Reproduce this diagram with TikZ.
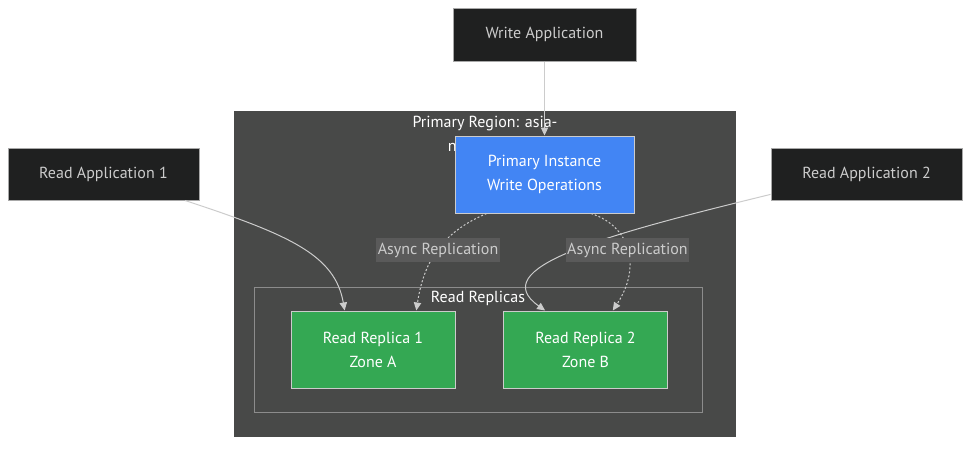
\documentclass[tikz,border=0pt]{standalone}
\usepackage{fontspec}
\setmainfont{PT Sans}
\usetikzlibrary{positioning,arrows.meta}
\definecolor{appfill}{HTML}{1F2020}
\definecolor{apptext}{HTML}{CCCCCC}
\definecolor{boxline}{HTML}{A8A8A8}
\definecolor{regionfill}{HTML}{484948}
\definecolor{clusterline}{HTML}{8C8C8C}
\definecolor{primaryfill}{HTML}{4285F4}
\definecolor{replicafill}{HTML}{34A853}
\definecolor{edgeline}{HTML}{CCCCCC}
\definecolor{lblfill}{HTML}{5A5A5A}

\begin{document}
\begin{tikzpicture}[x=0.75pt,y=-0.75pt,font=\fontsize{12pt}{18pt}\selectfont,
  >={Triangle[length=6pt,width=5.5pt]},
  appbox/.style={draw=boxline,line width=0.75pt,fill=appfill,text=apptext,minimum width=143.25pt,minimum height=39pt},
  primarybox/.style={draw=edgeline,line width=0.75pt,fill=primaryfill,text=white,align=center,minimum width=134.25pt,minimum height=57.75pt},
  replicabox/.style={draw=edgeline,line width=0.75pt,fill=replicafill,text=white,align=center,minimum width=123pt,minimum height=57.75pt},
  region/.style={fill=regionfill,minimum width=376.5pt,minimum height=244.5pt},
  cluster/.style={draw=clusterline,line width=0.75pt,minimum width=336pt,minimum height=93.75pt},
  edge/.style={->,draw=edgeline,line width=0.75pt},
  async/.style={edge,dash pattern=on 1.5pt off 1.5pt},
  lbl/.style={fill=lblfill,text=apptext,inner xsep=1pt,minimum height=17pt,solid}]
\useasboundingbox[fill=white] (0,0) rectangle (978,450);

% clusters
\node[region] (region) at (485,274) {};
\node[cluster] (replicas) at (478,349.5) {};
\node[text=white,align=center] (rtitle) at (485,134) {Primary Region: asia-\\northeast1};
\node[text=white] (reptitle) at (478,298) {Read Replicas};

% nodes
\node[appbox,minimum width=137.25pt,minimum height=39.75pt] (write) at (544.5,34.5) {Write Application};
\node[appbox] (read1) at (103.5,174) {Read Application 1};
\node[appbox] (read2) at (866.5,174) {Read Application 2};
\node[primarybox] (primary) at (544.5,174.5) {Primary Instance\\Write Operations};
\node[replicabox] (rep1) at (373,349.5) {Read Replica 1\\Zone A};
\node[replicabox] (rep2) at (585.5,349.5) {Read Replica 2\\Zone B};

% connectors
\draw[edge] (write) -- (primary);
\draw[edge] (read1.342) .. controls (290,235) and (335,255) .. (rep1.126);
\draw[edge] (read2.192) .. controls (600,236) and (485,268) .. (rep2.136);
\draw[async] (primary.214) .. controls (443,232) and (424,260) .. node[lbl,pos=0.5] {Async Replication} (rep1.42);
\draw[async] (primary.320) .. controls (630,226) and (642,266) .. node[lbl,pos=0.5] {Async Replication} (rep2.55);
\end{tikzpicture}
\end{document}
